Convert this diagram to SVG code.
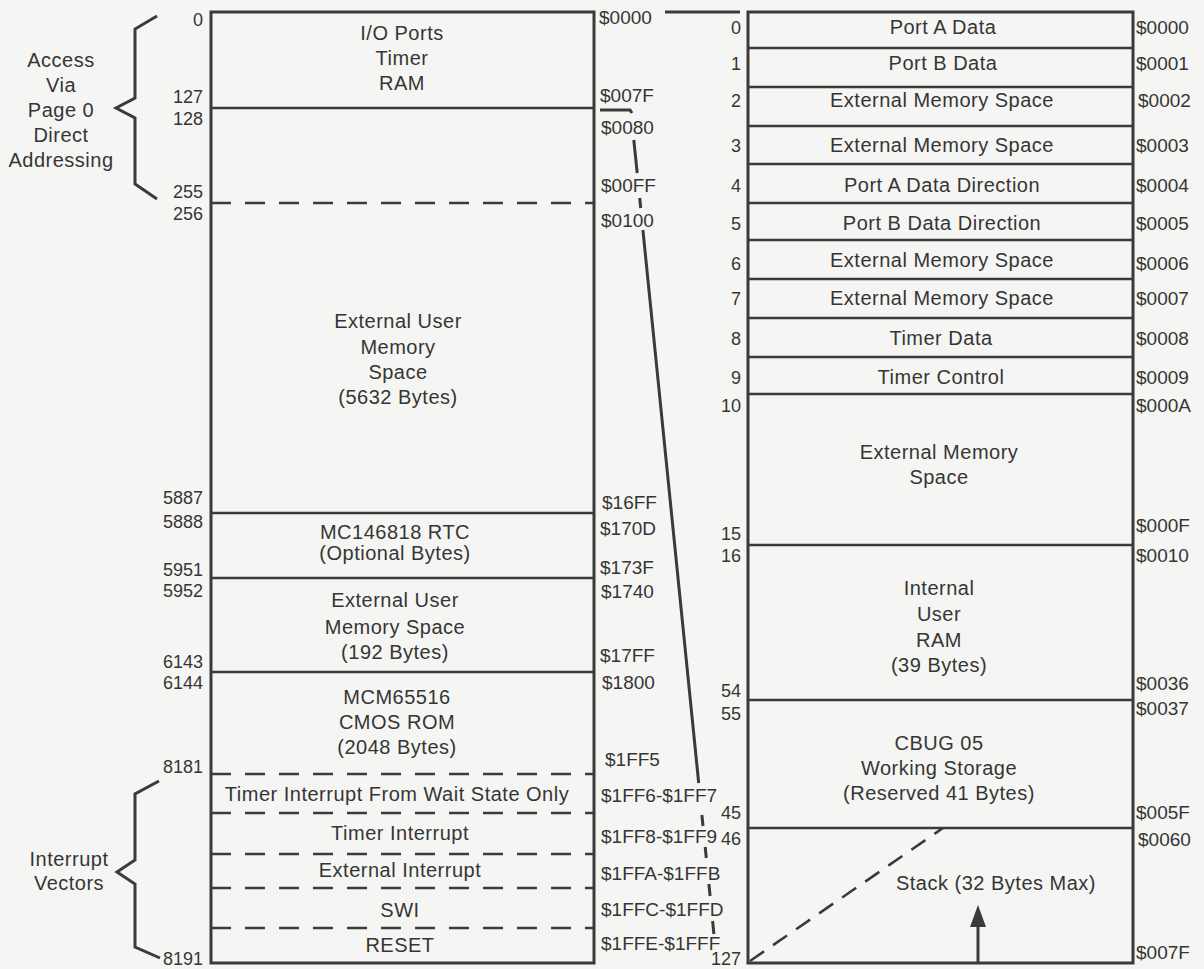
<svg xmlns="http://www.w3.org/2000/svg" width="1204" height="969" viewBox="0 0 1204 969">
<style>
text{font-family:"Liberation Sans",Arial,Helvetica,sans-serif;fill:#353535}
.lbl{font-size:20px;text-anchor:middle;letter-spacing:0.5px}
.dec{font-size:18px;text-anchor:end}
.hex{font-size:19px;text-anchor:start}
.box{fill:none;stroke:#3a3a3a;stroke-width:3}
.sep{stroke:#3a3a3a;stroke-width:2.6;fill:none}
.dash{stroke:#3a3a3a;stroke-width:2.6;fill:none;stroke-dasharray:20 14}
.lead{stroke:#3a3a3a;stroke-width:3;fill:none}
.brace{stroke:#3a3a3a;stroke-width:3;fill:none;stroke-linejoin:miter}
</style>
<rect x="0" y="0" width="1204" height="969" fill="#f5f5f3"/>

<g id="brace-page0">
<path class="brace" d="M157,16 L135,29 L135,98 L116,108 L135,118 L135,184 L157,199"/>
<text class="lbl" x="61" y="67">Access</text>
<text class="lbl" x="61" y="92">Via</text>
<text class="lbl" x="61" y="117">Page 0</text>
<text class="lbl" x="61" y="142">Direct</text>
<text class="lbl" x="61" y="167">Addressing</text>
</g>

<g id="brace-vectors">
<path class="brace" d="M159,781 L135,794 L135,860 L117,872 L135,884 L135,947 L160,958"/>
<text class="lbl" x="69" y="866">Interrupt</text>
<text class="lbl" x="69" y="890">Vectors</text>
</g>

<g id="memory-map">
<rect class="box" x="211" y="12" width="383" height="951"/>
<line class="sep" x1="211" y1="108" x2="594" y2="108"/>
<line class="dash" x1="211" y1="203" x2="594" y2="203"/>
<line class="sep" x1="211" y1="513" x2="594" y2="513"/>
<line class="sep" x1="211" y1="578" x2="594" y2="578"/>
<line class="sep" x1="211" y1="672" x2="594" y2="672"/>
<line class="dash" x1="211" y1="774" x2="594" y2="774"/>
<line class="dash" x1="211" y1="813" x2="594" y2="813"/>
<line class="dash" x1="211" y1="854" x2="594" y2="854"/>
<line class="dash" x1="211" y1="888" x2="594" y2="888"/>
<line class="dash" x1="211" y1="928" x2="594" y2="928"/>

<text class="lbl" x="402" y="40">I/O Ports</text>
<text class="lbl" x="402" y="65">Timer</text>
<text class="lbl" x="402" y="90">RAM</text>
<text class="lbl" x="398" y="328">External User</text>
<text class="lbl" x="398" y="354">Memory</text>
<text class="lbl" x="398" y="379">Space</text>
<text class="lbl" x="398" y="404">(5632 Bytes)</text>
<text class="lbl" x="395" y="539">MC146818 RTC</text>
<text class="lbl" x="395" y="560">(Optional Bytes)</text>
<text class="lbl" x="395" y="607">External User</text>
<text class="lbl" x="395" y="634">Memory Space</text>
<text class="lbl" x="395" y="659">(192 Bytes)</text>
<text class="lbl" x="397" y="704">MCM65516</text>
<text class="lbl" x="397" y="729">CMOS ROM</text>
<text class="lbl" x="397" y="754">(2048 Bytes)</text>
<text class="lbl" x="397" y="801">Timer Interrupt From Wait State Only</text>
<text class="lbl" x="400" y="840">Timer Interrupt</text>
<text class="lbl" x="400" y="877">External Interrupt</text>
<text class="lbl" x="400" y="917">SWI</text>
<text class="lbl" x="400" y="952">RESET</text>

<text class="dec" x="203" y="26">0</text>
<text class="dec" x="203" y="103">127</text>
<text class="dec" x="203" y="125">128</text>
<text class="dec" x="203" y="198">255</text>
<text class="dec" x="203" y="220">256</text>
<text class="dec" x="203" y="504">5887</text>
<text class="dec" x="203" y="528">5888</text>
<text class="dec" x="203" y="576">5951</text>
<text class="dec" x="203" y="597">5952</text>
<text class="dec" x="203" y="668">6143</text>
<text class="dec" x="203" y="689">6144</text>
<text class="dec" x="203" y="773">8181</text>
<text class="dec" x="203" y="965">8191</text>

<text class="hex" x="599" y="24">$0000</text>
<text class="hex" x="600" y="102">$007F</text>
<text class="hex" x="601" y="134">$0080</text>
<text class="hex" x="601" y="192">$00FF</text>
<text class="hex" x="601" y="227">$0100</text>
<text class="hex" x="602" y="509">$16FF</text>
<text class="hex" x="600" y="535">$170D</text>
<text class="hex" x="600" y="574">$173F</text>
<text class="hex" x="601" y="598">$1740</text>
<text class="hex" x="600" y="662">$17FF</text>
<text class="hex" x="602" y="689">$1800</text>
<text class="hex" x="605" y="766">$1FF5</text>
<text class="hex" x="601" y="802">$1FF6-$1FF7</text>
<text class="hex" x="601" y="843">$1FF8-$1FF9</text>
<text class="hex" x="601" y="880">$1FFA-$1FFB</text>
<text class="hex" x="601" y="916">$1FFC-$1FFD</text>
<text class="hex" x="601" y="950">$1FFE-$1FFF</text>
</g>

<g id="page0-detail">
<rect class="box" x="748" y="12" width="385" height="951"/>
<line class="sep" x1="748" y1="48" x2="1133" y2="48"/>
<line class="sep" x1="748" y1="87" x2="1133" y2="87"/>
<line class="sep" x1="748" y1="126" x2="1133" y2="126"/>
<line class="sep" x1="748" y1="164" x2="1133" y2="164"/>
<line class="sep" x1="748" y1="203" x2="1133" y2="203"/>
<line class="sep" x1="748" y1="240" x2="1133" y2="240"/>
<line class="sep" x1="748" y1="279" x2="1133" y2="279"/>
<line class="sep" x1="748" y1="318" x2="1133" y2="318"/>
<line class="sep" x1="748" y1="357" x2="1133" y2="357"/>
<line class="sep" x1="748" y1="394" x2="1133" y2="394"/>
<line class="sep" x1="748" y1="545" x2="1133" y2="545"/>
<line class="sep" x1="748" y1="700" x2="1133" y2="700"/>
<line class="sep" x1="748" y1="828" x2="1133" y2="828"/>

<text class="lbl" x="943" y="34">Port A Data</text>
<text class="lbl" x="943" y="70">Port B Data</text>
<text class="lbl" x="942" y="107">External Memory Space</text>
<text class="lbl" x="942" y="152">External Memory Space</text>
<text class="lbl" x="942" y="192">Port A Data Direction</text>
<text class="lbl" x="942" y="230">Port B Data Direction</text>
<text class="lbl" x="942" y="267">External Memory Space</text>
<text class="lbl" x="942" y="305">External Memory Space</text>
<text class="lbl" x="941" y="345">Timer Data</text>
<text class="lbl" x="941" y="384">Timer Control</text>
<text class="lbl" x="939" y="459">External Memory</text>
<text class="lbl" x="939" y="484">Space</text>
<text class="lbl" x="939" y="595">Internal</text>
<text class="lbl" x="939" y="621">User</text>
<text class="lbl" x="939" y="647">RAM</text>
<text class="lbl" x="939" y="672">(39 Bytes)</text>
<text class="lbl" x="939" y="750">CBUG 05</text>
<text class="lbl" x="939" y="775">Working Storage</text>
<text class="lbl" x="939" y="800">(Reserved 41 Bytes)</text>
<text class="lbl" x="996" y="890">Stack (32 Bytes Max)</text>

<text class="dec" x="741" y="34">0</text>
<text class="dec" x="741" y="70">1</text>
<text class="dec" x="741" y="107">2</text>
<text class="dec" x="741" y="152">3</text>
<text class="dec" x="741" y="192">4</text>
<text class="dec" x="741" y="230">5</text>
<text class="dec" x="741" y="270">6</text>
<text class="dec" x="741" y="305">7</text>
<text class="dec" x="741" y="345">8</text>
<text class="dec" x="741" y="384">9</text>
<text class="dec" x="741" y="412">10</text>
<text class="dec" x="741" y="540">15</text>
<text class="dec" x="741" y="562">16</text>
<text class="dec" x="741" y="697">54</text>
<text class="dec" x="741" y="720">55</text>
<text class="dec" x="741" y="819">45</text>
<text class="dec" x="741" y="845">46</text>
<text class="dec" x="741" y="965">127</text>

<text class="hex" x="1136" y="34">$0000</text>
<text class="hex" x="1136" y="70">$0001</text>
<text class="hex" x="1138" y="107">$0002</text>
<text class="hex" x="1136" y="152">$0003</text>
<text class="hex" x="1136" y="192">$0004</text>
<text class="hex" x="1136" y="230">$0005</text>
<text class="hex" x="1136" y="270">$0006</text>
<text class="hex" x="1136" y="305">$0007</text>
<text class="hex" x="1136" y="345">$0008</text>
<text class="hex" x="1136" y="384">$0009</text>
<text class="hex" x="1136" y="412">$000A</text>
<text class="hex" x="1136" y="532">$000F</text>
<text class="hex" x="1136" y="562">$0010</text>
<text class="hex" x="1136" y="690">$0036</text>
<text class="hex" x="1136" y="715">$0037</text>
<text class="hex" x="1136" y="819">$005F</text>
<text class="hex" x="1138" y="846">$0060</text>
<text class="hex" x="1136" y="959">$007F</text>
</g>

<g id="connectors">
<line class="lead" x1="665" y1="12" x2="740" y2="12"/>
<path class="lead" d="M600,110 L630,110 L632,113"/>
<path class="lead" d="M633.8,140 L637.2,173 M639.7,198 L640.7,208 M642.9,230 L698.7,783 M701.9,815 L703,826 M705.2,847 L706.3,858 M708.9,884 L710.1,896 M712.6,921 L713.9,934"/>
<line x1="750" y1="961" x2="943" y2="828" stroke="#3a3a3a" stroke-width="2.6" stroke-dasharray="17 11"/>
<line x1="978" y1="963" x2="978" y2="924" stroke="#3a3a3a" stroke-width="3"/>
<polygon points="978,905 970,927 986,927" fill="#3a3a3a"/>
</g>
</svg>
